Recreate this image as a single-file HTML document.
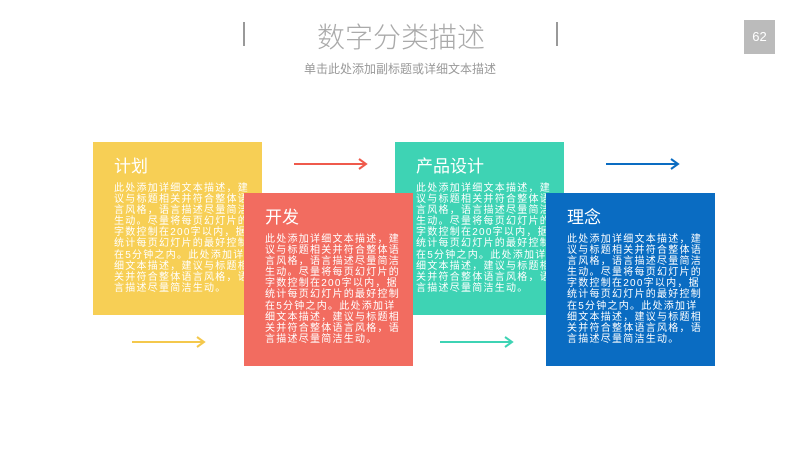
<!DOCTYPE html>
<html><head><meta charset="utf-8"><style>
body{margin:0;width:800px;height:450px;background:#fff;position:relative;overflow:hidden;font-family:"Liberation Sans","Noto Sans CJK SC",sans-serif}
.abs{position:absolute}
.box{position:absolute;width:169px;height:173px;color:#fff}
.box h3{margin:0;position:absolute;left:21px;top:10px;font-size:17px;font-weight:normal}
.box p{margin:0;position:absolute;left:21px;top:41px;font-size:10px;line-height:11.1px;letter-spacing:1.25px;white-space:nowrap}
</style></head><body>
<div class="abs" style="left:243px;top:22px;width:2px;height:24px;background:#999"></div>
<div class="abs" style="left:556px;top:22px;width:2px;height:24px;background:#999"></div>
<div class="abs" style="left:296px;top:16px;width:210px;text-align:center;font-size:28px;color:#aaa;font-weight:300">数字分类描述</div>
<div class="abs" style="left:290px;top:60px;width:220px;text-align:center;font-size:12px;color:#999">单击此处添加副标题或详细文本描述</div>
<div class="abs" style="left:744px;top:20px;width:31px;height:34px;background:#bbb;color:#fff;font-size:13px;line-height:34px;text-align:center">62</div>

<div class="box" style="left:93px;top:142px;background:#f7cf55"><h3>计划</h3><p>此处添加详细文本描述，建<br>议与标题相关并符合整体语<br>言风格，语言描述尽量简洁<br>生动。尽量将每页幻灯片的<br>字数控制在200字以内，据<br>统计每页幻灯片的最好控制<br>在5分钟之内。此处添加详<br>细文本描述，建议与标题相<br>关并符合整体语言风格，语<br>言描述尽量简洁生动。</p></div>
<div class="box" style="left:395px;top:142px;background:#3ed3b4"><h3>产品设计</h3><p>此处添加详细文本描述，建<br>议与标题相关并符合整体语<br>言风格，语言描述尽量简洁<br>生动。尽量将每页幻灯片的<br>字数控制在200字以内，据<br>统计每页幻灯片的最好控制<br>在5分钟之内。此处添加详<br>细文本描述，建议与标题相<br>关并符合整体语言风格，语<br>言描述尽量简洁生动。</p></div>
<div class="box" style="left:244px;top:193px;background:#f26c60"><h3>开发</h3><p>此处添加详细文本描述，建<br>议与标题相关并符合整体语<br>言风格，语言描述尽量简洁<br>生动。尽量将每页幻灯片的<br>字数控制在200字以内，据<br>统计每页幻灯片的最好控制<br>在5分钟之内。此处添加详<br>细文本描述，建议与标题相<br>关并符合整体语言风格，语<br>言描述尽量简洁生动。</p></div>
<div class="box" style="left:546px;top:193px;background:#0a6cc2"><h3>理念</h3><p>此处添加详细文本描述，建<br>议与标题相关并符合整体语<br>言风格，语言描述尽量简洁<br>生动。尽量将每页幻灯片的<br>字数控制在200字以内，据<br>统计每页幻灯片的最好控制<br>在5分钟之内。此处添加详<br>细文本描述，建议与标题相<br>关并符合整体语言风格，语<br>言描述尽量简洁生动。</p></div>

<svg class="abs" style="left:0;top:0" width="800" height="450">
<g fill="none" stroke-width="2">
<path d="M294 164H366M359 159L366 164L359 169" stroke="#ef5a4c"/>
<path d="M606 164H678M671 159L678 164L671 169" stroke="#0a6cc2"/>
<path d="M132 342H204M197 337L204 342L197 347" stroke="#f4c84c"/>
<path d="M440 342H512M505 337L512 342L505 347" stroke="#3ed3b4"/>
</g>
</svg>
</body></html>
